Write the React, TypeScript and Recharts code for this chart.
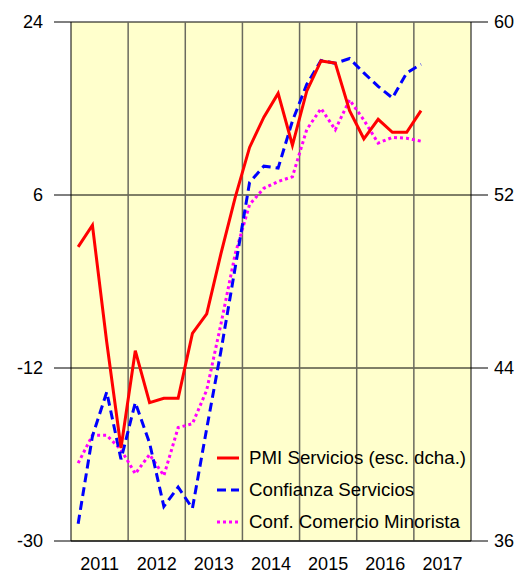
import {
  CartesianGrid,
  Legend,
  Line,
  LineChart,
  ReferenceLine,
  XAxis,
  YAxis,
} from "recharts";

const years = ["2011", "2012", "2013", "2014", "2015", "2016", "2017"];

// quarterly values, 2011 Q1 .. 2017 Q1
const pmiServicios = [
  49.6, 50.6, 45.2, 40.3, 44.8, 42.4, 42.6, 42.6, 45.6, 46.5, 49.3, 51.9, 54.2,
  55.6, 56.7, 54.3, 56.8, 58.2, 58.1, 55.9, 54.6, 55.5, 54.9, 54.9, 55.9,
];
const confianzaServicios = [
  -28.2, -19.1, -14.5, -21.5, -15.6, -19.8, -26.4, -24.4, -26.6, -18.3, -10.2,
  -1.5, 7.3, 9.0, 8.8, 13.7, 17.5, 20.0, 19.7, 20.2, 18.7, 17.3, 16.1, 18.7, 19.6,
];
const confComercio = [
  -21.9, -19.0, -19.0, -20.5, -23.0, -21.0, -23.2, -18.2, -17.8, -14.3, -7.4,
  -0.1, 5.0, 6.7, 7.4, 7.9, 12.8, 15.0, 12.8, 15.9, 13.8, 11.4, 12.0, 11.9, 11.6,
];

const leftTicks = [-30, -12, 6, 24];
const rightTicks = [36, 44, 52, 60];

const data = pmiServicios.map((pmi, i) => ({
  q: i + 0.5,
  pmi,
  serv: confianzaServicios[i],
  com: confComercio[i],
}));

const yearMids = years.map((_, i) => i * 4 + 2);
const yearBounds = years.slice(1).map((_, i) => (i + 1) * 4);

const series = [
  { key: "pmi", name: "PMI Servicios (esc. dcha.)", color: "#ff0000", dash: undefined },
  { key: "serv", name: "Confianza Servicios", color: "#0000ff", dash: "9 5" },
  { key: "com", name: "Conf. Comercio Minorista", color: "#ff00ff", dash: "3 3" },
];

const tickStyle = { fill: "#000", fontSize: 18 };

const renderLegend = () => (
  <div>
    {series.map((s) => (
      <div key={s.key} style={{ display: "flex", alignItems: "center", height: 32 }}>
        <svg width={32} height={10}>
          <line
            x1={0}
            x2={22}
            y1={5}
            y2={5}
            stroke={s.color}
            strokeWidth={3}
            strokeDasharray={s.dash}
          />
        </svg>
        <span style={{ fontSize: 18.7, color: "#000", whiteSpace: "nowrap" }}>{s.name}</span>
      </div>
    ))}
  </div>
);

export default function App() {
  return (
    <div
      style={{
        position: "absolute",
        left: 0,
        top: 0,
        width: 524,
        height: 574,
        background: "#fff",
        fontFamily: "'Liberation Sans', Arial, sans-serif",
      }}
    >
      <LineChart
        width={524}
        height={574}
        data={data}
        margin={{ top: 22, right: 0, bottom: 0, left: 0 }}
      >
        <CartesianGrid
          yAxisId="left"
          vertical={false}
          stroke="#000"
          fill="#ffffcc"
          fillOpacity={1}
        />
        {yearBounds.map((b) => (
          <ReferenceLine key={b} x={b} yAxisId="left" stroke="#6a6a5e" strokeWidth={1.5} />
        ))}
        <XAxis
          dataKey="q"
          type="number"
          domain={[0, 28]}
          ticks={yearMids}
          interval={0}
          tickFormatter={(v) => years[(Number(v) - 2) / 4]}
          tickLine={false}
          tickSize={0}
          tickMargin={16}
          height={33}
          axisLine={{ stroke: "#000" }}
          tick={tickStyle}
        />
        <YAxis
          yAxisId="left"
          domain={[-30, 24]}
          ticks={leftTicks}
          interval={0}
          width={71}
          tickSize={17}
          tickMargin={11}
          tickLine={{ stroke: "#000" }}
          axisLine={{ stroke: "#000" }}
          tick={tickStyle}
        />
        <YAxis
          yAxisId="right"
          orientation="right"
          domain={[36, 60]}
          ticks={rightTicks}
          interval={0}
          width={53}
          tickSize={17}
          tickMargin={6}
          tickLine={{ stroke: "#000" }}
          axisLine={{ stroke: "#000" }}
          tick={tickStyle}
        />
        <Line
          yAxisId="left"
          dataKey="com"
          stroke="#ff00ff"
          strokeWidth={3}
          strokeDasharray="3 3"
          dot={false}
          isAnimationActive={false}
        />
        <Line
          yAxisId="left"
          dataKey="serv"
          stroke="#0000ff"
          strokeWidth={3}
          strokeDasharray="9 5"
          dot={false}
          isAnimationActive={false}
        />
        <Line
          yAxisId="right"
          dataKey="pmi"
          stroke="#ff0000"
          strokeWidth={3}
          dot={false}
          isAnimationActive={false}
        />
        <Legend
          layout="vertical"
          align="center"
          verticalAlign="middle"
          content={renderLegend}
          wrapperStyle={{ left: 217, top: 442, width: 260 }}
        />
      </LineChart>
    </div>
  );
}
